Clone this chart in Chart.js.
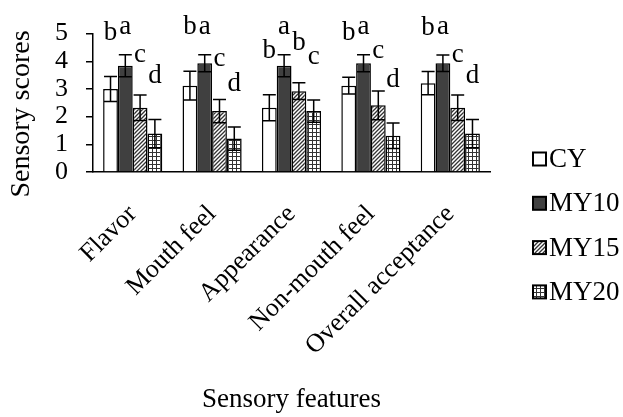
<!DOCTYPE html>
<html><head><meta charset="utf-8">
<script src="https://cdn.jsdelivr.net/npm/chart.js@4.4.1/dist/chart.umd.min.js"></script>
<style>html,body{margin:0;padding:0;background:#fff}canvas{display:block}</style>
</head><body>
<canvas id="c" width="623" height="417"></canvas>
<script>
// ---- data ----
const categories = ['Flavor', 'Mouth feel', 'Appearance', 'Non-mouth feel', 'Overall acceptance'];
const seriesNames = ['CY', 'MY10', 'MY15', 'MY20'];
const cyValues   = [3.00, 3.12, 2.32, 3.12, 3.21];
const my10Values = [3.84, 3.93, 3.84, 3.93, 3.93];
const my15Values = [2.32, 2.20, 2.92, 2.41, 2.32];
const my20Values = [1.39, 1.21, 2.20, 1.31, 1.39];
const cyErrors   = [0.45, 0.52, 0.47, 0.30, 0.42];
const my10Errors = [0.40, 0.31, 0.40, 0.31, 0.30];
const my15Errors = [0.46, 0.42, 0.30, 0.52, 0.46];
const my20Errors = [0.51, 0.42, 0.40, 0.46, 0.51];
const cyLetters   = ['b', 'b', 'b', 'b', 'b'];
const my10Letters = ['a', 'a', 'a', 'a', 'a'];
const my15Letters = ['c', 'c', 'b', 'c', 'c'];
const my20Letters = ['d', 'd', 'c', 'd', 'd'];
const yTickValues = [0, 1, 2, 3, 4, 5];
const xTitle = 'Sensory features';
const yTitle = 'Sensory scores';

// ---- styles ----
const FONT = "'Liberation Serif', 'Times New Roman', serif";
Chart.defaults.font.family = FONT;
Chart.defaults.color = '#000';
const canvas = document.getElementById('c');
const ctx = canvas.getContext('2d');

function hatchPattern() {
  const c = document.createElement('canvas'); c.width = 4; c.height = 4;
  const g = c.getContext('2d');
  g.fillStyle = '#fff'; g.fillRect(0, 0, 4, 4);
  g.strokeStyle = '#333'; g.lineWidth = 1.3;
  g.beginPath();
  g.moveTo(-1, 5); g.lineTo(5, -1);
  g.moveTo(-1, 1); g.lineTo(1, -1);
  g.moveTo(3, 5); g.lineTo(5, 3);
  g.stroke();
  return ctx.createPattern(c, 'repeat');
}
function gridPattern() {
  const c = document.createElement('canvas'); c.width = 4; c.height = 4;
  const g = c.getContext('2d');
  g.fillStyle = '#fff'; g.fillRect(0, 0, 4, 4);
  g.fillStyle = '#333'; g.fillRect(0, 0, 4, 1); g.fillRect(0, 0, 1, 4);
  return ctx.createPattern(c, 'repeat');
}
const fills = ['#ffffff', '#404040', hatchPattern(), gridPattern()];
const letterOffsets = [37, 21, 33, 36];

const allValues = [cyValues, my10Values, my15Values, my20Values];
const allErrors = [cyErrors, my10Errors, my15Errors, my20Errors];
const allLetters = [cyLetters, my10Letters, my15Letters, my20Letters];

const datasets = seriesNames.map((name, i) => ({
  label: name,
  data: allValues[i],
  errors: allErrors[i],
  letters: allLetters[i],
  backgroundColor: fills[i],
  borderColor: '#000',
  borderWidth: 1.5,
  barPercentage: 1.0,
  categoryPercentage: 0.745
}));

const errorBarPlugin = {
  id: 'errorBars',
  afterDatasetsDraw(chart) {
    const c = chart.ctx, ys = chart.scales.y;
    c.save();
    c.strokeStyle = '#000'; c.lineWidth = 1.5;
    chart.data.datasets.forEach((ds, di) => {
      const meta = chart.getDatasetMeta(di);
      meta.data.forEach((bar, j) => {
        const v = ds.data[j], e = ds.errors[j];
        const yt = ys.getPixelForValue(v + e), yb = ys.getPixelForValue(v - e);
        const x = bar.x, hw = 6.5;
        c.beginPath();
        c.moveTo(x, yt); c.lineTo(x, yb);
        c.moveTo(x - hw, yt); c.lineTo(x + hw, yt);
        c.moveTo(x - hw, yb); c.lineTo(x + hw, yb);
        c.stroke();
        c.fillStyle = '#000';
        c.font = '27px ' + FONT;
        c.textAlign = 'center'; c.textBaseline = 'alphabetic';
        c.fillText(ds.letters[j], x, yt - letterOffsets[di]);
      });
    });
    c.restore();
  }
};

const textPlugin = {
  id: 'sideLegendAndTitle',
  afterDraw(chart) {
    const c = chart.ctx;
    c.save();
    // y axis title
    c.fillStyle = '#000';
    c.font = '28px ' + FONT;
    c.textAlign = 'center'; c.textBaseline = 'middle';
    c.translate(22, 114);
    c.rotate(-Math.PI / 2);
    c.fillText(yTitle, 0, 0);
    c.restore();
    c.save();
    chart.data.datasets.forEach((ds, i) => {
      const cy = 159 + i * 44.3;
      c.fillStyle = ds.backgroundColor;
      c.fillRect(533, cy - 6.5, 13, 13);
      c.strokeStyle = '#000'; c.lineWidth = 2;
      c.strokeRect(533, cy - 6.5, 13, 13);
      c.fillStyle = '#000';
      c.font = '27px ' + FONT;
      c.textAlign = 'left'; c.textBaseline = 'middle';
      c.fillText(ds.label, 549, cy + 1);
    });
    c.restore();
  }
};

new Chart(ctx, {
  type: 'bar',
  data: { labels: categories, datasets },
  options: {
    responsive: false,
    animation: false,
    layout: { padding: { top: 32, right: 133, bottom: 0, left: 0 } },
    plugins: { legend: { display: false }, tooltip: { enabled: false } },
    scales: {
      x: {
        grid: { display: false, drawTicks: false },
        border: { color: '#000', width: 1.5 },
        ticks: { color: '#000', font: { family: FONT, size: 26 }, minRotation: 45, maxRotation: 45, autoSkip: false, padding: 27 },
        title: { display: true, text: xTitle, color: '#000', font: { family: FONT, size: 27 }, padding: { top: 0, bottom: 1 } },
        afterFit(s) { s.height = 245; }
      },
      y: {
        min: 0, max: 5,
        afterBuildTicks(s) { s.ticks = yTickValues.map(v => ({ value: v })); },
        ticks: { color: '#000', font: { family: FONT, size: 26 }, padding: 18, autoSkip: false },
        grid: { drawOnChartArea: false, drawTicks: true, tickLength: 7, color: '#000', lineWidth: 1.5 },
        border: { color: '#000', width: 1.5 },
        title: { display: false },
        afterFit(s) { s.width = 93; }
      }
    }
  },
  plugins: [errorBarPlugin, textPlugin]
});
</script>
</body></html>
